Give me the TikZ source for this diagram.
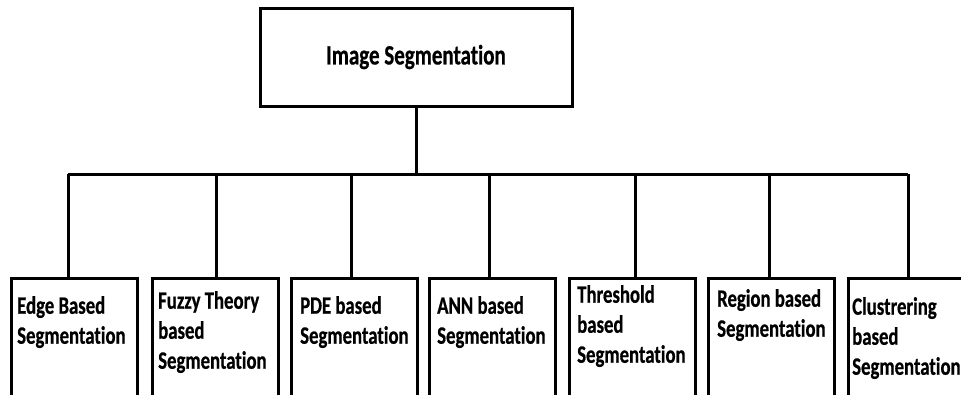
\documentclass[tikz,border=0pt]{standalone}
\usepackage{fontspec}
\newfontfamily\segfont{Carlito}[FakeStretch=0.75,FakeBold=0.6,Ligatures=NoCommon]
\tikzset{
    root/.style ={rectangle, minimum width=312pt, minimum height=98pt, draw=black, line width=3pt,
                  font=\segfont\bfseries\fontsize{28}{30}\selectfont},
    leaf/.style ={rectangle, minimum width=126pt, minimum height=133pt, draw=black, line width=3pt,
                  anchor=north west},
    lbl/.style  ={anchor=north west, align=left, inner xsep=7pt, inner ysep=19pt,
                  font=\segfont\bfseries\fontsize{25}{30}\selectfont},
    wire/.style ={line width=3pt}
}

\begin{document}
\begin{tikzpicture}[x=1pt,y=-1pt]
        \useasboundingbox (0,0) rectangle (961,394);
        \clip (0,0) rectangle (961,394);
        % root
        \node[root] (seg) at (416,57) {Image Segmentation};
        % leaves
        \node[leaf,label={[lbl]north west:{Edge Based\\Segmentation}}] (edge) at (10,277) {};
        \node[leaf,label={[lbl,inner ysep=14pt]north west:{Fuzzy Theory\\based\\Segmentation}}] (fuzzy) at (151,277) {};
        \node[leaf,label={[lbl,inner xsep=10pt]north west:{PDE based\\Segmentation}}] (pde) at (290,277) {};
        \node[leaf,label={[lbl,inner xsep=9pt]north west:{ANN based\\Segmentation}}] (ann) at (428,277) {};
        \node[leaf,label={[lbl,inner xsep=9pt,inner ysep=8pt]north west:{Threshold\\based\\Segmentation}}] (thresh) at (568,277) {};
        \node[leaf,label={[lbl,inner xsep=10pt,inner ysep=12pt]north west:{Region based\\Segmentation}}] (region) at (707,277) {};
        \node[leaf,label={[lbl,inner xsep=5pt,inner ysep=20pt]north west:{Clustrering\\based\\Segmentation}}] (clust) at (847,277) {};
        % bus
        \coordinate (b1) at (68,174);
        \coordinate (b2) at (216,174);
        \coordinate (b3) at (351,174);
        \coordinate (b4) at (489,174);
        \coordinate (b5) at (635,174);
        \coordinate (b6) at (769,174);
        \coordinate (b7) at (908,174);
        \draw[wire] (seg.south) -- (seg.south |- b1);
        \draw[wire] (b1) -- (b7);
        \draw[wire] (b1) -- (b1 |- edge.north);
        \draw[wire] (b2) -- (b2 |- fuzzy.north);
        \draw[wire] (b3) -- (b3 |- pde.north);
        \draw[wire] (b4) -- (b4 |- ann.north);
        \draw[wire] (b5) -- (b5 |- thresh.north);
        \draw[wire] (b6) -- (b6 |- region.north);
        \draw[wire] (b7) -- (b7 |- clust.north);
\end{tikzpicture}
\end{document}
